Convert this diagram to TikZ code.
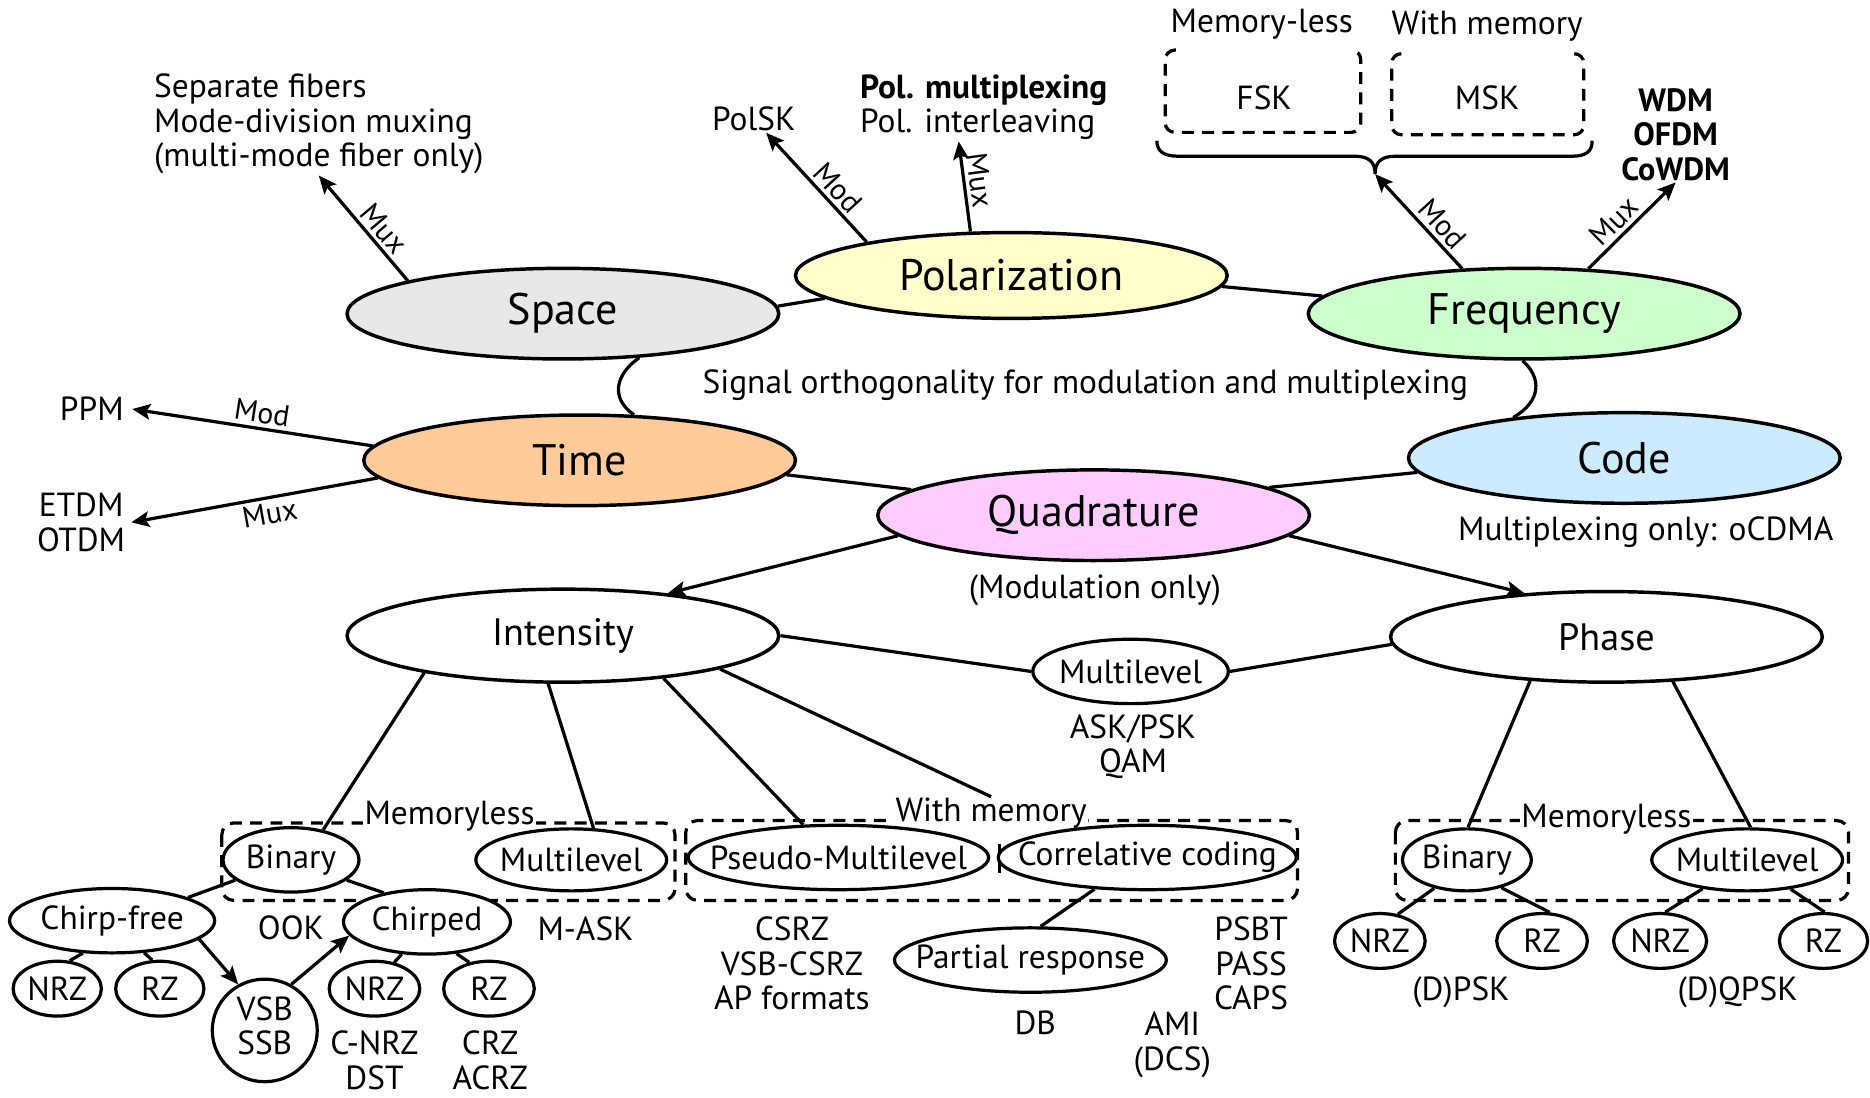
\documentclass[tikz,border=0pt]{standalone}
\usepackage{fontspec}
\setmainfont{PT Sans}
\usetikzlibrary{shapes.geometric,arrows.meta,calc}

\definecolor{cspace}{HTML}{E8E8E8}
\definecolor{cpol}{HTML}{FFFFCC}
\definecolor{cfreq}{HTML}{CCFFCC}
\definecolor{ctime}{HTML}{FFCC99}
\definecolor{ccode}{HTML}{CCEBFF}
\definecolor{cquad}{HTML}{FFCCFF}

% text inside an ellipse does not widen it
\newcommand\E[1]{\makebox[0pt][c]{#1}}

\begin{document}
\begin{tikzpicture}[x=1pt,y=-1pt,
  ell/.style={ellipse, draw, line width=2.9pt, inner sep=0pt, fill=white},
  bigell/.style={ell, minimum width=362pt, minimum height=76pt, font=\fontsize{37}{42}\selectfont},
  medell/.style={ell, font=\fontsize{32}{36}\selectfont},
  smell/.style={ell, line width=2.7pt, font=\fontsize{28}{29}\selectfont},
  txt/.style={inner sep=1pt, font=\fontsize{28}{29}\selectfont, align=center},
  lab/.style={font=\fontsize{25}{27}\selectfont, inner sep=3pt, sloped},
  conn/.style={line width=2.7pt},
  arr/.style={conn, -{Stealth[length=15pt,width=13pt,inset=3pt]}},
  memo/.style={line width=2.7pt, dash pattern=on 10pt off 7pt, rounded corners=10pt},
]
\useasboundingbox (0,0) rectangle (1568,920);

% ---- main dimensions ----
\node[bigell, fill=cspace] (space) at (472,263) {\E{Space}};
\node[bigell, fill=cpol, minimum height=72pt] (pol) at (848,231) {\E{Polarization}};
\node[bigell, fill=cfreq] (freq) at (1278,263) {\E{Frequency}};
\node[bigell, fill=ctime] (time) at (486,386) {\E{Time}};
\node[bigell, fill=ccode] (code) at (1362,384) {\E{Code}};
\node[bigell, fill=cquad] (quad) at (917,432) {\E{Quadrature}};
\node[medell, minimum width=362pt, minimum height=78pt] (intensity) at (472,533) {\E{Intensity}};
\node[medell, minimum width=362pt, minimum height=76pt] (phase) at (1347,534) {\E{Phase}};
\node[smell, minimum width=164pt, minimum height=54pt] (mlmid) at (948,563) {\E{Multilevel}};

% ---- free texts ----
\node[txt, anchor=west, align=left] (sep) at (128,104) {Separate fibers\\Mode-division muxing\\(multi-mode fiber only)};
\node[txt] (polsk) at (632,100) {PolSK};
\node[txt, anchor=west, align=left] (polmux) at (720,90) {\textbf{Pol. multiplexing}\\Pol. interleaving};
\node[txt] (memless) at (1058,20) {Memory-less};
\node[txt] (withmem) at (1247,22) {With memory};
\node[txt] (fsk) at (1060,82) {FSK};
\node[txt] (msk) at (1247,82) {MSK};
\node[txt, font=\fontsize{27}{29}\selectfont\bfseries] (wdm) at (1405,113) {WDM\\OFDM\\CoWDM};
\node[txt] (orth) at (910,323) {Signal orthogonality for modulation and multiplexing};
\node[txt] (ppm) at (77,343) {PPM};
\node[txt] (tdm) at (68,438) {ETDM\\OTDM};
\node[txt] (modonly) at (918,495) {(Modulation only)};
\node[txt] (ocdma) at (1380,446) {Multiplexing only: oCDMA};
\node[txt] (askpsk) at (950,626) {ASK/PSK\\QAM};

% ---- FSK / MSK groups and brace ----
\draw[memo, rounded corners=8pt] (986,42) -- (977,42) -- (977,111) -- (1141,111) -- (1141,42) -- (1132,42);
\draw[memo, rounded corners=8pt] (1175,45) -- (1167,45) -- (1167,113) -- (1328,113) -- (1328,45) -- (1320,45);
\coordinate (bracetip) at (1153,146);
\draw[conn] (970,118) .. controls (970,127) and (976,131) .. (988,131) -- (1136,131)
  .. controls (1148,131) and (1153,136) .. (bracetip)
  .. controls (1153,136) and (1158,131) .. (1170,131) -- (1318,131)
  .. controls (1330,131) and (1335,127) .. (1335,118);

% ---- links between dimensions ----
\draw[conn] (space.2) -- (pol.187);
\draw[conn] (pol.357) -- (freq.175);
\draw[conn] (space.330) .. controls +(-20,14) and +(-20,-14) .. (time.40);
\draw[conn] (freq.268) .. controls +(16,14) and +(24,-14) .. (code.160);
\draw[conn] (time.356) -- (quad.172);
\draw[conn] (quad.9) -- (code.184);
\draw[arr] (quad.186) -- (intensity.22);
\draw[arr] (quad.354) -- (phase.152);
\draw[conn] (intensity.0) -- (mlmid.180);
\draw[conn] (mlmid.0) -- (phase.182);

% ---- Mod / Mux arrows ----
\draw[arr] (space.168) -- node[lab, above, pos=.4] {Mux} (sep.south);
\draw[arr] (pol.167) -- node[lab, above, pos=.4] {Mod} (polsk);
\draw[arr] (pol.133) -- node[lab, above, pos=.55] {Mux} ($(polmux.south west)!0.4!(polmux.south east)$);
\draw[arr] (freq.144) -- node[lab, above, pos=.36] {Mod} (bracetip);
\draw[arr] (freq.35) -- node[lab, above, pos=.42] {Mux} (wdm.south);
\draw[arr] (time.176) -- node[lab, above, pos=.47] {Mod} ([xshift=6]ppm.east);
\draw[arr] (time.185) -- node[lab, below, pos=.45] {Mux} ([xshift=4]tdm.east);

% ---- lower groups ----
\draw[memo] (186,690) rectangle (566,755);
\draw[memo] (575,688) rectangle (1088,755);
\draw[memo] (1170,688) rectangle (1550,755);
\draw[conn] (838,708) -- (838,732);
\node[txt, fill=white] (mless1) at (377,684) {Memoryless};
\node[txt, fill=white] (wmlabel) at (831,682) {With memory};
\node[txt, fill=white] (mless2) at (1347,687) {Memoryless};

\node[smell, minimum width=114pt, minimum height=54pt] (bin1) at (244,721) {\E{Binary}};
\node[smell, minimum width=160pt, minimum height=52pt] (ml1) at (479,721) {\E{Multilevel}};
\node[smell, minimum width=252pt, minimum height=54pt] (pseudo) at (703,719) {\E{Pseudo-Multilevel}};
\node[smell, minimum width=250pt, minimum height=54pt] (corr) at (962,719) {\E{Correlative coding}};
\node[smell, minimum width=108pt, minimum height=52pt] (bin2) at (1230,721) {\E{Binary}};
\node[smell, minimum width=160pt, minimum height=52pt] (ml2) at (1465,721) {\E{Multilevel}};
\node[smell, minimum width=172pt, minimum height=54pt] (chirpfree) at (94,772) {\E{Chirp-free}};
\node[smell, minimum width=140pt, minimum height=54pt] (chirped) at (358,773) {\E{Chirped}};
\node[smell, minimum width=74pt, minimum height=46pt] (nrz1) at (48,829) {\E{NRZ}};
\node[smell, minimum width=74pt, minimum height=46pt] (rz1) at (134,829) {\E{RZ}};
\node[smell, minimum width=88pt, minimum height=86pt] (vsb) at (222,864) {\E{\begin{tabular}{@{}c@{}}VSB\\[0pt]SSB\end{tabular}}};
\node[smell, minimum width=76pt, minimum height=46pt] (nrz2) at (314,829) {\E{NRZ}};
\node[smell, minimum width=76pt, minimum height=46pt] (rz2) at (410,829) {\E{RZ}};
\node[smell, minimum width=228pt, minimum height=54pt] (partial) at (864,805) {\E{Partial response}};
\node[smell, minimum width=76pt, minimum height=46pt] (nrz3) at (1157,789) {\E{NRZ}};
\node[smell, minimum width=76pt, minimum height=46pt] (rz3) at (1293,789) {\E{RZ}};
\node[smell, minimum width=78pt, minimum height=46pt] (nrz4) at (1392,789) {\E{NRZ}};
\node[smell, minimum width=74pt, minimum height=46pt] (rz4) at (1529,789) {\E{RZ}};

\node[txt] (ook) at (244,778) {OOK};
\node[txt] (mask) at (491,779) {M-ASK};
\node[txt] (cnrz) at (314,889) {C-NRZ\\DST};
\node[txt] (crz) at (411,889) {CRZ\\ACRZ};
\node[txt] (csrz) at (664,808) {CSRZ\\VSB-CSRZ\\AP formats};
\node[txt] (db) at (868,858) {DB};
\node[txt] (ami) at (983,876) {AMI\\(DCS)};
\node[txt] (psbt) at (1049,808) {PSBT\\PASS\\CAPS};
\node[txt] (dpsk) at (1225,832) {(D)PSK};
\node[txt] (dqpsk) at (1457,832) {(D)QPSK};

% ---- tree links ----
\draw[conn] (intensity.195) -- (bin1.43);
\draw[conn] (intensity.253) -- (ml1.55);
\draw[conn] (intensity.337) -- (pseudo.137);
\draw[conn] (intensity.348) -- (wmlabel.north);
\draw[conn] (phase.210) -- (bin2.88);
\draw[conn] (phase.326) -- (ml2.84);
\draw[conn] (bin1.200) -- (chirpfree.17);
\draw[conn] (bin1.340) -- (chirped.146);
\draw[conn] (chirpfree.228) -- (nrz1.66);
\draw[conn] (chirpfree.315) -- (rz1.105);
\draw[arr] (chirpfree.348) -- (vsb.120);
\draw[arr] (vsb.60) -- (chirped.190);
\draw[conn] (chirped.232) -- (nrz2.53);
\draw[conn] (chirped.313) -- (rz2.127);
\draw[conn] (corr.211) -- (partial.73);
\draw[conn] (bin2.221) -- (nrz3.56);
\draw[conn] (bin2.321) -- (rz3.75);
\draw[conn] (ml2.213) -- (nrz4.80);
\draw[conn] (ml2.326) -- (rz4.88);
\end{tikzpicture}
\end{document}
